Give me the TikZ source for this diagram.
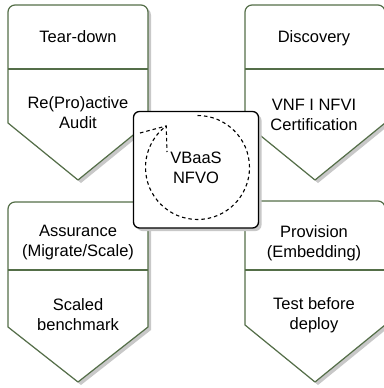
\documentclass[tikz,border=0pt]{standalone}
\usepackage{fontspec}
\setmainfont{Liberation Sans}
\usetikzlibrary{shadows}
\definecolor{frame}{RGB}{84,110,72}
\definecolor{shade}{RGB}{200,200,200}
\tikzset{
  shadowed/.style={drop shadow={shadow xshift=3pt, shadow yshift=-3pt, fill=shade, opacity=1}},
  phase/.style={draw=frame, line width=1.2pt, fill=white, line join=round, shadowed},
  divider/.style={draw=frame, line width=1.2pt},
  label/.style={font=\fontsize{16.5}{20}\selectfont, align=center, inner sep=0pt},
  core/.style={draw=black, line width=1.3pt, fill=white, rounded corners=6pt, shadowed},
  loop/.style={draw=black, line width=1.1pt, dash pattern=on 3.5pt off 3pt}
}
% one phase: pentagon with rounded top corners and a divider line
% #1 left, #2 right, #3 top, #4 side bottom, #5 tip, #6 divider
\newcommand{\phaseshape}[6]{%
  \path[phase, rounded corners=7pt]
    (#1,{(#3+#4)/2}) -- (#1,#3) -- (#2,#3) -- (#2,{(#3+#4)/2})
    [sharp corners] -- (#2,#4) -- ({(#1+#2)/2},#5) -- (#1,#4) -- cycle;
  \draw[divider] (#1,#6) -- (#2,#6);
}
\begin{document}
\begin{tikzpicture}[x=1pt, y=-1pt]
\useasboundingbox (0,0) rectangle (383,388);

% four lifecycle phases
\phaseshape{8}{148}{5}{123}{180}{69}
\phaseshape{245}{385}{5}{123}{180}{69}
\phaseshape{8}{148}{202}{327}{382}{270}
\phaseshape{245}{385}{201}{325}{382}{270}

\node[label] (teardown) at (78,37) {Tear-down};
\node[label] (audit) at (78,113) {Re(Pro)active\\Audit};
\node[label] (discovery) at (314,38) {Discovery};
\node[label] (cert) at (314,115) {VNF I NFVI\\Certification};
\node[label] (assurance) at (78,243) {Assurance\\(Migrate/Scale)};
\node[label] (bench) at (78,315) {Scaled\\benchmark};
\node[label] (provision) at (314,243) {Provision\\(Embedding)};
\node[label] (test) at (314,315) {Test before\\deploy};

% orchestrator in the middle
\path[core] (133.5,111.5) rectangle (258.5,228);
\coordinate (hub) at (197.5,167.5);
\draw[loop] (197.5,115.5) arc[start angle=-90, end angle=233, radius=52] coordinate (tip);
\coordinate (barbA) at (140,133);
\coordinate (barbB) at (167,152);
\draw[loop] (barbA) -- (tip) -- (barbB);
\node[label] (nfvo) at (196,168) {VBaaS\\NFVO};
\end{tikzpicture}
\end{document}
